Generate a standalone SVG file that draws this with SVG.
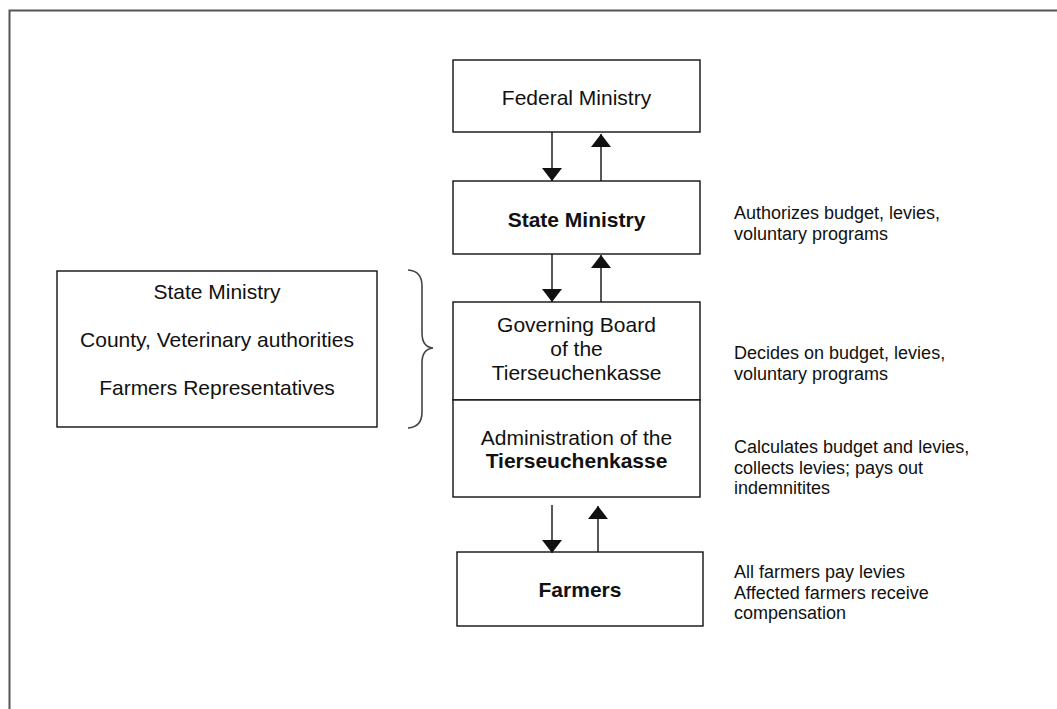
<svg xmlns="http://www.w3.org/2000/svg" width="1057" height="709" viewBox="0 0 1057 709">
<style>
.box{fill:#fff;stroke:#111;stroke-width:1.4}
.t{font-family:"Liberation Sans",Arial,sans-serif;font-size:21px;fill:#111;text-anchor:middle}
.b{font-weight:bold}
.n{font-family:"Liberation Sans",Arial,sans-serif;font-size:18px;fill:#111}
.c{stroke:#111;stroke-width:1.4;fill:none;marker-end:url(#ah)}
</style>
<defs>
<marker id="ah" viewBox="0 0 13 20" markerWidth="13" markerHeight="20" refX="13" refY="10" orient="auto" markerUnits="userSpaceOnUse">
<path d="M0,0 L13,10 L0,20 z" fill="#111"/>
</marker>
</defs>
<rect width="1057" height="709" fill="#fff"/>
<g id="frame" stroke="#555" stroke-width="2" fill="none">
<path d="M9.5,709 L9.5,10.5 L1057,10.5"/>
</g>
<g id="federal">
<rect class="box" x="453" y="60" width="247" height="72"/>
<text class="t" x="576.5" y="105">Federal Ministry</text>
</g>
<g id="state">
<rect class="box" x="453" y="181" width="247" height="73"/>
<text class="t b" x="576.5" y="227">State Ministry</text>
<text class="n" x="734" y="219">Authorizes budget, levies,</text>
<text class="n" x="734" y="239.5">voluntary programs</text>
</g>
<g id="board">
<rect class="box" x="453" y="302" width="247" height="98"/>
<text class="t" x="576.5" y="332">Governing Board</text>
<text class="t" x="576.5" y="356">of the</text>
<text class="t" x="576.5" y="380">Tierseuchenkasse</text>
<text class="n" x="734" y="359">Decides on budget, levies,</text>
<text class="n" x="734" y="379.5">voluntary programs</text>
</g>
<g id="admin">
<rect class="box" x="453" y="400" width="247" height="97"/>
<text class="t" x="576.5" y="445">Administration of the</text>
<text class="t b" x="576.5" y="468">Tierseuchenkasse</text>
<text class="n" x="734" y="453">Calculates budget and levies,</text>
<text class="n" x="734" y="473.5">collects levies; pays out</text>
<text class="n" x="734" y="494">indemnitites</text>
</g>
<g id="farmers">
<rect class="box" x="457" y="552" width="246" height="74"/>
<text class="t b" x="580" y="597">Farmers</text>
<text class="n" x="734" y="578">All farmers pay levies</text>
<text class="n" x="734" y="598.5">Affected farmers receive</text>
<text class="n" x="734" y="619">compensation</text>
</g>
<g id="members">
<rect class="box" x="57" y="271" width="320" height="156"/>
<text class="t" x="217" y="299">State Ministry</text>
<text class="t" x="217" y="347">County, Veterinary authorities</text>
<text class="t" x="217" y="395">Farmers Representatives</text>
</g>
<g id="brace">
<path d="M408,270 Q422,271 422,286 L422,333 Q422,347 433,348 Q422,349 422,363 L422,412 Q422,427 408,428" fill="none" stroke="#444" stroke-width="1.6"/>
</g>
<g id="connectors">
<line class="c" x1="552" y1="132" x2="552" y2="181"/>
<line class="c" x1="601" y1="181" x2="601" y2="134"/>
<line class="c" x1="552" y1="254" x2="552" y2="302"/>
<line class="c" x1="601" y1="302" x2="601" y2="255"/>
<line class="c" x1="552" y1="505" x2="552" y2="553"/>
<line class="c" x1="598" y1="552" x2="598" y2="506"/>
</g>
</svg>
